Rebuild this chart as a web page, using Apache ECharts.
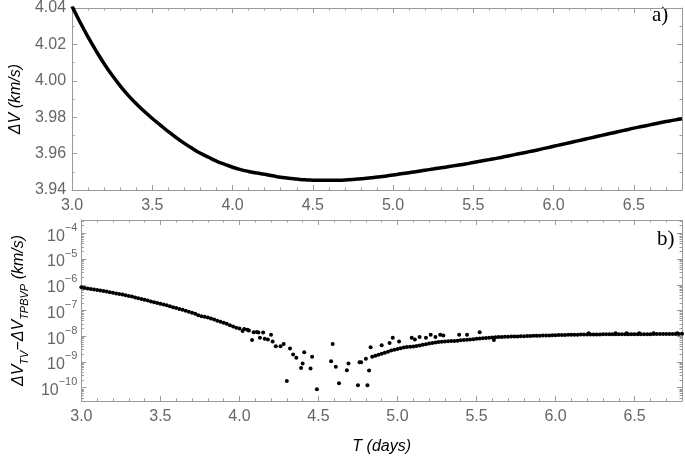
<!DOCTYPE html>
<html><head><meta charset="utf-8">
<script src="https://cdn.jsdelivr.net/npm/echarts@6/dist/echarts.min.js"></script>
<style>html,body{margin:0;padding:0;background:#fff}#c{width:685px;height:456px}</style>
</head><body><div id="c"></div>
<script>
// ---------- Panel a): ΔV (km/s) vs T (days) ----------
const dvT = [3.00,3.05,3.10,3.15,3.20,3.25,3.30,3.35,3.40,3.45,3.50,3.55,3.60,3.65,3.70,3.75,3.80,3.85,3.90,3.95,
  4.00,4.05,4.10,4.15,4.20,4.25,4.30,4.35,4.40,4.45,4.50,4.55,4.60,4.65,4.70,4.75,4.80,4.85,4.90,4.95,
  5.00,5.05,5.10,5.15,5.20,5.25,5.30,5.35,5.40,5.45,5.50,5.55,5.60,5.65,5.70,5.75,5.80,5.85,5.90,5.95,
  6.00,6.05,6.10,6.15,6.20,6.25,6.30,6.35,6.40,6.45,6.50,6.55,6.60,6.65,6.70,6.75,6.80];
const dvV = [4.0410,4.0322,4.0240,4.0164,4.0094,4.0030,3.9972,3.9920,3.9874,3.9832,3.9793,3.9757,3.9721,3.9687,3.9656,3.9628,3.9602,3.9580,3.9559,3.9541,
  3.9525,3.9512,3.9502,3.9493,3.9486,3.9478,3.9470,3.9464,3.9460,3.9456,3.9454,3.9453,3.9453,3.9453,3.9455,3.9458,3.9462,3.9466,3.9471,3.9476,
  3.9482,3.9489,3.9495,3.9502,3.9509,3.9515,3.9522,3.9529,3.9536,3.9543,3.9551,3.9559,3.9567,3.9575,3.9584,3.9593,3.9602,3.9611,3.9620,3.9630,
  3.9640,3.9650,3.9660,3.9670,3.9680,3.9690,3.9700,3.9710,3.9720,3.9730,3.9740,3.9749,3.9758,3.9767,3.9776,3.9784,3.9792];

// ---------- Panel b): log10 of ΔV_TV − ΔV_TPBVP (km/s) vs T ----------
const diffSmooth = [[3.00,-6.10],[3.02,-6.12],[3.04,-6.14],[3.06,-6.16],[3.08,-6.18],[3.10,-6.20],[3.12,-6.22],[3.14,-6.24],[3.16,-6.26],[3.18,-6.29],
  [3.20,-6.31],[3.22,-6.34],[3.24,-6.36],[3.26,-6.38],[3.28,-6.41],[3.30,-6.44],[3.32,-6.46],[3.34,-6.49],[3.36,-6.52],[3.38,-6.55],
  [3.40,-6.58],[3.42,-6.61],[3.44,-6.65],[3.46,-6.68],[3.48,-6.71],[3.50,-6.74],[3.52,-6.77],[3.54,-6.80],[3.56,-6.83],[3.58,-6.87],
  [3.60,-6.90],[3.62,-6.94],[3.64,-6.97],[3.66,-7.01],[3.68,-7.05],[3.70,-7.09],[3.72,-7.13],[3.74,-7.18],[3.76,-7.22],[3.78,-7.24],
  [3.80,-7.27],[3.82,-7.31],[3.84,-7.35],[3.86,-7.40],[3.88,-7.44],[3.90,-7.48],[3.92,-7.52],[3.94,-7.57],[3.96,-7.62],[3.98,-7.67]];
const diffScatter = [[4.00,-7.70],[4.02,-7.80],[4.03,-7.72],[4.05,-7.75],[4.06,-7.78],[4.08,-8.15],[4.09,-7.85],[4.11,-7.84],[4.12,-7.86],[4.13,-8.06],
  [4.15,-7.86],[4.16,-8.10],[4.18,-8.13],[4.20,-7.94],[4.21,-8.21],[4.23,-8.39],[4.26,-8.39],[4.28,-8.30],[4.30,-9.74],[4.32,-8.48],
  [4.34,-8.71],[4.36,-8.84],[4.39,-9.24],[4.40,-9.06],[4.41,-8.62],[4.45,-9.26],[4.46,-8.80],[4.49,-10.06],[4.58,-8.97],[4.59,-8.30],
  [4.61,-9.19],[4.63,-9.83],[4.68,-9.32],[4.69,-9.06],[4.75,-9.91],[4.76,-9.01],[4.77,-9.01],[4.80,-8.88],[4.81,-9.91],[4.82,-9.33],[4.83,-8.43],
  [4.90,-8.35],[4.95,-8.26],[4.97,-8.06],[5.01,-8.21],[5.09,-8.06],[5.11,-8.13],[5.14,-8.03],[5.18,-8.06],[5.21,-7.94],[5.24,-8.03],
  [5.27,-7.94],[5.29,-7.97],[5.39,-7.94],[5.44,-7.94],[5.52,-7.85],[5.61,-8.15]];
const diffBand = [[4.84,-8.80],[4.86,-8.76],[4.88,-8.72],[4.90,-8.68],[4.92,-8.64],[4.94,-8.60],[4.96,-8.56],[4.98,-8.53],[5.00,-8.50],[5.02,-8.47],
  [5.04,-8.44],[5.06,-8.42],[5.08,-8.41],[5.10,-8.40],[5.12,-8.38],[5.14,-8.36],[5.16,-8.33],[5.18,-8.31],[5.20,-8.28],[5.22,-8.26],
  [5.24,-8.24],[5.26,-8.23],[5.28,-8.22],[5.30,-8.21],[5.32,-8.20],[5.34,-8.19],[5.36,-8.19],[5.38,-8.18],[5.40,-8.16],[5.42,-8.15],
  [5.44,-8.14],[5.46,-8.13],[5.48,-8.12],[5.50,-8.10],[5.52,-8.09],[5.54,-8.08],[5.56,-8.07],[5.58,-8.06],[5.60,-8.05]];
const diffFlat = [[5.62,-8.04],[5.64,-8.03],[5.66,-8.03],[5.68,-8.02],[5.70,-8.02],[5.72,-8.01],[5.74,-8.01],[5.76,-8.01],[5.78,-8.00],[5.80,-8.00],
  [5.82,-7.99],[5.84,-7.99],[5.86,-7.98],[5.88,-7.98],[5.90,-7.98],[5.92,-7.97],[5.94,-7.97],[5.96,-7.97],[5.98,-7.96],[6.00,-7.96],
  [6.02,-7.95],[6.04,-7.95],[6.06,-7.95],[6.08,-7.94],[6.10,-7.94],[6.12,-7.94],[6.14,-7.94],[6.16,-7.93],[6.18,-7.93],[6.20,-7.93],
  [6.22,-7.93],[6.24,-7.93],[6.26,-7.93],[6.28,-7.93],[6.30,-7.92],[6.32,-7.92],[6.34,-7.92],[6.36,-7.92],[6.38,-7.92],[6.40,-7.92],
  [6.42,-7.92],[6.44,-7.92],[6.46,-7.92],[6.48,-7.92],[6.50,-7.92],[6.52,-7.92],[6.54,-7.92],[6.56,-7.92],[6.58,-7.92],[6.60,-7.92],
  [6.62,-7.91],[6.64,-7.91],[6.66,-7.91],[6.68,-7.91],[6.70,-7.91],[6.72,-7.91],[6.74,-7.91],[6.76,-7.91],[6.78,-7.91],[6.80,-7.90],
  [6.21,-7.88],[6.38,-7.88],[6.45,-7.88],[6.53,-7.88],[6.62,-7.88],[6.77,-7.88]];

// Tick definitions
const logMajor = [-10,-9,-8,-7,-6,-5,-4];
const logMinorFactors = [2,3,4,5,6,7,8,9];

const minorLog = [];
for (let n = -11; n <= -4; n++) logMinorFactors.forEach(k => { const v = n + Math.log10(k); if (v > -10.52 && v < -3.48) minorLog.push(v); });

const FONT = '"Liberation Sans", Arial, sans-serif';
const GRAY = '#9a9a9a';
const LABEL = '#666666';

const axLine = { lineStyle: { color: GRAY, width: 1 } };
function xAx(grid, pos, labels, extra) {
  return Object.assign({
    type: 'value', gridIndex: grid, position: pos, min: 3.0, max: 6.8, interval: 0.5,
    axisLine: axLine,
    axisTick: { inside: true, length: 5, lineStyle: { color: GRAY } },
    minorTick: { show: true, splitNumber: 5, length: 2.5, lineStyle: { color: GRAY } },
    splitLine: { show: false }, minorSplitLine: { show: false },
    axisLabel: { show: labels, color: LABEL, fontSize: 16, fontFamily: FONT, margin: 8, showMaxLabel: false,
      formatter: v => v.toFixed(1) }
  }, extra || {});
}
function yTop(pos, labels, extra) {
  return Object.assign({
    type: 'value', gridIndex: 0, position: pos, min: 3.94, max: 4.04, interval: 0.02,
    axisLine: axLine,
    axisTick: { inside: true, length: 5, lineStyle: { color: GRAY } },
    minorTick: { show: true, splitNumber: 2, length: 2.5, lineStyle: { color: GRAY } },
    splitLine: { show: false }, minorSplitLine: { show: false },
    axisLabel: { show: labels, color: LABEL, fontSize: 16, fontFamily: FONT, margin: 6, formatter: v => v.toFixed(2) }
  }, extra || {});
}
function yLog(pos, vals, len, labels, extra) {
  return Object.assign({
    type: 'value', gridIndex: 1, position: pos, min: -10.52, max: -3.48,
    axisLine: axLine,
    axisTick: { inside: true, length: len, customValues: vals, lineStyle: { color: GRAY } },
    splitLine: { show: false },
    axisLabel: { show: labels, customValues: logMajor, margin: 4,
      formatter: v => '{b|10}{s|−' + Math.abs(Math.round(v)) + '}',
      rich: {
        b: { fontSize: 16, fontFamily: FONT, color: LABEL, lineHeight: 22, verticalAlign: 'bottom' },
        s: { fontSize: 11, fontFamily: FONT, color: LABEL, lineHeight: 14, verticalAlign: 'top' }
      } }
  }, extra || {});
}

const nameStyle = { fontSize: 16, fontStyle: 'italic', fontFamily: FONT, color: '#000' };

const option = {
  animation: false,
  backgroundColor: '#fff',
  grid: [
    { left: 70, right: 3, top: 6, height: 184, containLabel: false },
    { left: 70, right: 3, top: 220, height: 182, containLabel: false }
  ],
  xAxis: [
    xAx(0, 'bottom', true),
    xAx(0, 'top', false),
    xAx(1, 'bottom', true, { name: 'T (days)', nameLocation: 'middle', nameGap: 38, nameTextStyle: nameStyle }),
    xAx(1, 'top', false)
  ],
  yAxis: [
    yTop('left', true, { name: 'ΔV (km/s)', nameLocation: 'middle', nameGap: 44, nameTextStyle: nameStyle }),
    yTop('right', false),
    yLog('left', logMajor, 5, true, {
      name: 'ΔV{sub|TV}−ΔV{sub|TPBVP} (km/s)', nameLocation: 'middle', nameGap: 42,
      nameTextStyle: Object.assign({}, nameStyle, { lineHeight: 22, rich: {
        sub: { fontSize: 11, fontStyle: 'italic', fontFamily: FONT, color: '#000', lineHeight: 12, verticalAlign: 'bottom' }
      } })
    }),
    yLog('right', logMajor, 5, false),
    yLog('left', minorLog, 2.5, false, { axisLine: { show: false } }),
    yLog('right', minorLog, 2.5, false, { axisLine: { show: false } })
  ],
  series: [
    { type: 'line', xAxisIndex: 0, yAxisIndex: 0, data: dvT.map((t, i) => [t, dvV[i]]),
      smooth: true, showSymbol: false, lineStyle: { color: '#000', width: 3.5 } },
    ...[diffSmooth, diffScatter, diffBand, diffFlat].map(d => ({
      type: 'scatter', xAxisIndex: 2, yAxisIndex: 2, data: d, symbolSize: 4,
      itemStyle: { color: '#000', opacity: 1 } }))
  ],
  graphic: [
    { type: 'text', left: 652, top: 5, style: { text: 'a)', font: '21px "Liberation Serif", serif', fill: '#000' } },
    { type: 'text', left: 657, top: 229, style: { text: 'b)', font: '21px "Liberation Serif", serif', fill: '#000' } }
  ]
};

const chart = echarts.init(document.getElementById('c'), null, { renderer: 'canvas' });
chart.setOption(option);
</script>
</body></html>
